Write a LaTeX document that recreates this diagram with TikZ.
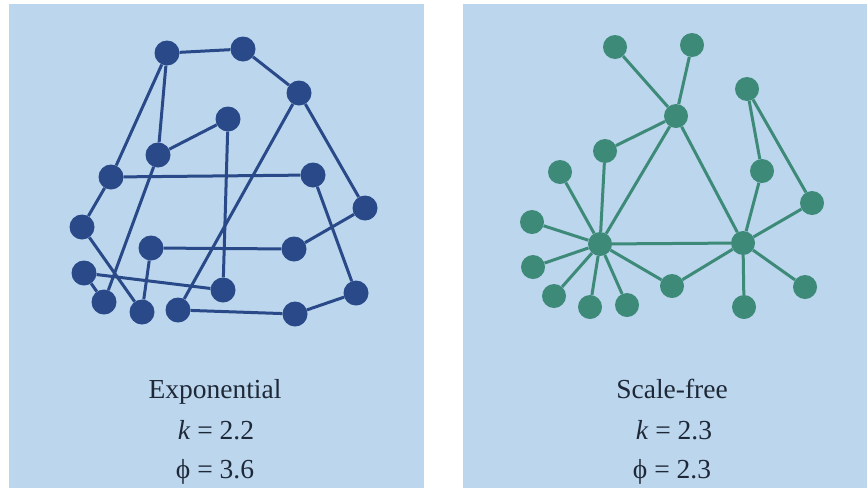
\documentclass[tikz,border=0pt]{standalone}
\usepackage{fontspec}
\setmainfont{Liberation Serif}
\newfontfamily\dvs{DejaVu Serif}
\definecolor{bgblue}{RGB}{187,214,237}
\definecolor{navy}{RGB}{42,73,136}
\definecolor{teal}{RGB}{62,138,120}
\definecolor{txtc}{RGB}{30,40,55}
\tikzset{
  panel/.style={fill=bgblue},
  ln/.style={circle,fill=navy,minimum size=25pt,inner sep=0pt},
  rn/.style={circle,fill=teal,minimum size=24pt,inner sep=0pt},
  le/.style={draw=navy,line width=3pt},
  re/.style={draw=teal,line width=3pt},
  lbl/.style={anchor=base,text=txtc,font=\fontsize{27.5}{32}\selectfont,inner sep=0pt}
}
\begin{document}
\begin{tikzpicture}[x=1pt,y=-1pt]
\useasboundingbox (0,0) rectangle (867,488);
\fill[panel] (9,4) rectangle (424,488);
\fill[panel] (463,4) rectangle (867,488);
% left graph nodes
\node[ln] (A) at (167,53) {};
\node[ln] (B) at (243,49) {};
\node[ln] (C) at (299,93) {};
\node[ln] (D) at (228,119) {};
\node[ln] (E) at (158,155) {};
\node[ln] (F) at (111,177) {};
\node[ln] (G) at (313,175) {};
\node[ln] (H) at (365,208) {};
\node[ln] (I) at (82,227) {};
\node[ln] (J) at (151,248) {};
\node[ln] (K) at (294,249) {};
\node[ln] (L) at (84,273) {};
\node[ln] (M) at (223,290) {};
\node[ln] (N) at (104,302) {};
\node[ln] (O) at (142,312) {};
\node[ln] (P) at (178,310) {};
\node[ln] (Q) at (295,314) {};
\node[ln] (R) at (356,293) {};
\foreach \u/\v in {A/B,B/C,A/F,A/E,E/D,E/N,F/G,F/I,I/O,C/P,C/H,D/M,G/R,H/K,J/K,J/O,L/M,L/N,P/Q,Q/R}
  \draw[le] (\u) -- (\v);
% right graph nodes
\node[rn] (a) at (615,47) {};
\node[rn] (b) at (692,45) {};
\node[rn] (c) at (676,116) {};
\node[rn] (d) at (747,89) {};
\node[rn] (e) at (605,151) {};
\node[rn] (f) at (560,172) {};
\node[rn] (g) at (762,171) {};
\node[rn] (h) at (812,203) {};
\node[rn] (i) at (532,222) {};
\node[rn] (j) at (600,244) {};
\node[rn] (k) at (743,243) {};
\node[rn] (l) at (533,267) {};
\node[rn] (m) at (672,286) {};
\node[rn] (n) at (554,296) {};
\node[rn] (o) at (590,307) {};
\node[rn] (p) at (627,305) {};
\node[rn] (q) at (744,307) {};
\node[rn] (r) at (805,287) {};
\foreach \u/\v in {a/c,b/c,c/e,c/j,c/k,d/g,d/h,g/k,h/k,j/f,j/i,j/l,j/n,j/o,j/p,j/e,j/k,j/m,m/k,k/q,k/r}
  \draw[re] (\u) -- (\v);
% labels
\node[lbl] (t1) at (215,398) {Exponential};
\node[lbl] (t2) at (216,439) {\textit{k} = 2.2};
\node[lbl] (t3) at (215,478) {ϕ = 3.6};
\node[lbl] (s1) at (672,398) {Scale-free};
\node[lbl] (s2) at (674,439) {\textit{k} = 2.3};
\node[lbl] (s3) at (672,478) {ϕ = 2.3};
\end{tikzpicture}
\end{document}
